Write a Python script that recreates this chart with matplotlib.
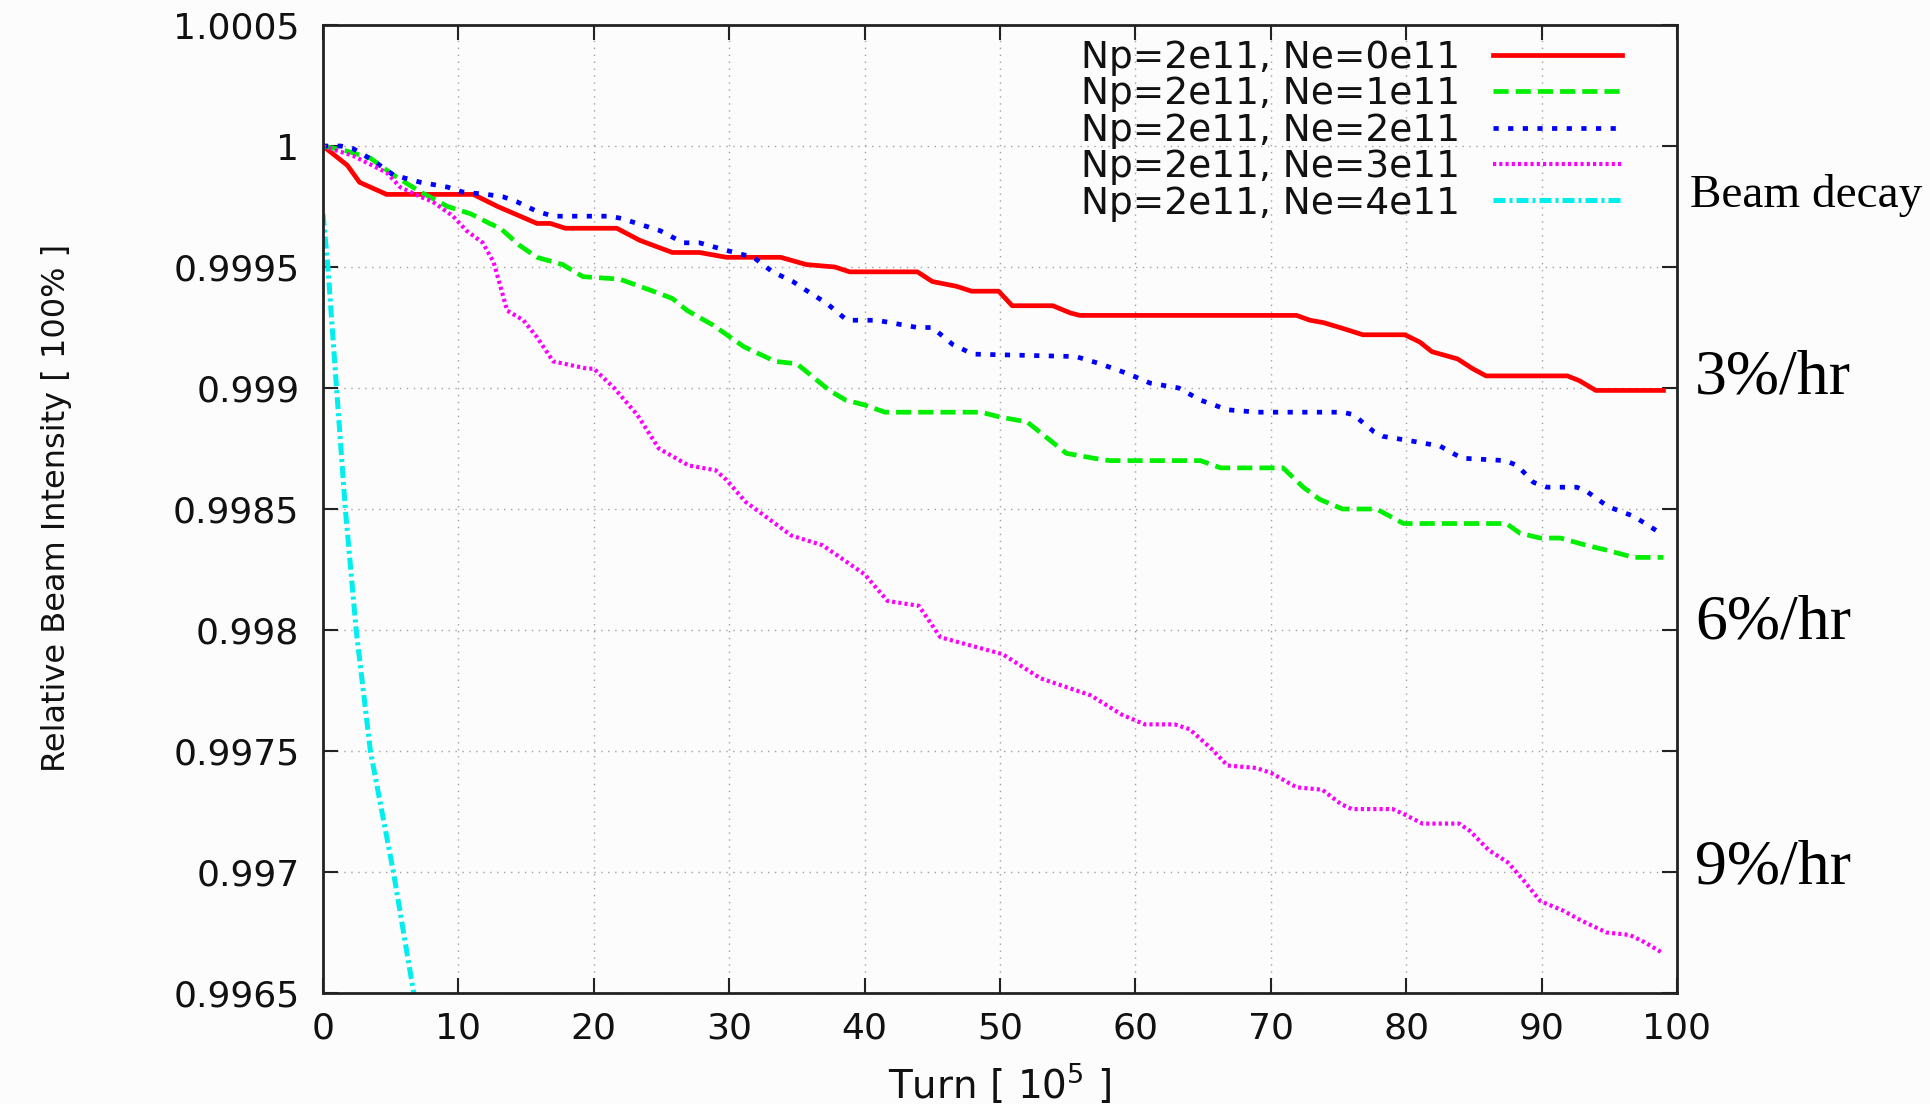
import matplotlib
matplotlib.use("Agg")
import matplotlib.pyplot as plt

# Beam intensity vs. turn number (turns in units of 1e5)
turn_ne0 = [0, 1.8, 2.7, 4.7, 11.1, 12.9, 15.8, 16.8, 17.9, 21.7, 23.4, 25.8, 27.8, 29.8,
            33.8, 35.7, 37.8, 38.9, 43.9, 45.0, 46.8, 47.9, 49.9, 50.9, 53.9, 55.2, 55.9,
            71.9, 72.9, 73.9, 75.1, 76.8, 79.9, 81.0, 81.9, 83.8, 84.9, 85.9, 91.9, 92.8,
            94.0, 99.0]
int_ne0 = [1.0, 0.99992, 0.99985, 0.9998, 0.9998, 0.99975, 0.99968, 0.99968, 0.99966,
           0.99966, 0.99961, 0.99956, 0.99956, 0.99954, 0.99954, 0.99951, 0.9995, 0.99948,
           0.99948, 0.99944, 0.99942, 0.9994, 0.9994, 0.99934, 0.99934, 0.99931, 0.9993,
           0.9993, 0.99928, 0.99927, 0.99925, 0.99922, 0.99922, 0.99919, 0.99915, 0.99912,
           0.99908, 0.99905, 0.99905, 0.99903, 0.99899, 0.99899]

turn_ne1 = [0, 1.7, 3.5, 5.2, 7.2, 9.2, 10.9, 12.3, 13.1, 14.5, 15.8, 17.7, 19.2, 21.9,
            23.9, 25.8, 26.9, 28.8, 31.1, 33.4, 35.0, 37.4, 38.6, 40.0, 41.5, 48.6, 50.0,
            52.0, 54.9, 56.9, 58.1, 64.8, 66.3, 70.9, 72.4, 73.6, 75.3, 77.8, 79.8, 87.4,
            88.4, 89.9, 91.4, 93.3, 94.8, 96.8, 99.0]
int_ne1 = [1.0, 0.99998, 0.99995, 0.99988, 0.99981, 0.99975, 0.99972, 0.99968, 0.99966,
           0.99959, 0.99954, 0.99951, 0.99946, 0.99945, 0.99941, 0.99937, 0.99932, 0.99926,
           0.99917, 0.99911, 0.9991, 0.99899, 0.99895, 0.99893, 0.9989, 0.9989, 0.99888,
           0.99886, 0.99873, 0.99871, 0.9987, 0.9987, 0.99867, 0.99867, 0.99859, 0.99854,
           0.9985, 0.9985, 0.99844, 0.99844, 0.9984, 0.99838, 0.99838, 0.99835, 0.99833,
           0.9983, 0.9983]

turn_ne2 = [0, 1.3, 2.2, 3.7, 5.2, 7.2, 9.2, 10.3, 12.1, 13.3, 14.3, 15.8, 17.0, 21.2,
            22.1, 23.2, 24.9, 26.6, 27.8, 29.7, 31.8, 33.2, 34.7, 35.5, 37.2, 38.7, 40.9,
            43.9, 45.0, 46.5, 48.0, 55.6, 57.4, 59.4, 61.1, 63.2, 64.8, 66.8, 69.0, 75.3,
            76.1, 77.6, 78.3, 80.5, 82.5, 84.1, 87.3, 88.2, 89.4, 90.4, 92.6, 93.4, 94.9,
            96.8, 98.5, 99.0]
int_ne2 = [1.0, 1.0, 0.99999, 0.99994, 0.99988, 0.99985, 0.99983, 0.99981, 0.9998,
           0.99979, 0.99977, 0.99973, 0.99971, 0.99971, 0.9997, 0.99968, 0.99965, 0.9996,
           0.9996, 0.99957, 0.99954, 0.99948, 0.99944, 0.99941, 0.99935, 0.99928, 0.99928,
           0.99925, 0.99925, 0.99918, 0.99914, 0.99913, 0.9991, 0.99906, 0.99902, 0.999,
           0.99895, 0.99891, 0.9989, 0.9989, 0.99889, 0.99882, 0.9988, 0.99878, 0.99876,
           0.99871, 0.9987, 0.99868, 0.99861, 0.99859, 0.99859, 0.99857, 0.99851, 0.99847,
           0.99841, 0.9984]

turn_ne3 = [0, 2.2, 4.7, 5.7, 7.2, 8.1, 9.6, 10.6, 11.8, 12.6, 13.6, 14.8, 15.8, 17.0,
            19.5, 20.0, 21.5, 23.2, 24.8, 27.0, 29.0, 29.8, 31.2, 34.6, 36.9, 40.0, 41.7,
            44.0, 45.6, 50.2, 53.0, 56.7, 59.0, 60.7, 62.9, 64.0, 65.6, 66.8, 68.9, 70.0,
            71.9, 73.8, 75.2, 76.0, 79.0, 79.8, 81.2, 83.9, 84.7, 86.1, 87.5, 88.6, 89.9,
            91.6, 92.9, 94.8, 96.5, 97.6, 98.8]
int_ne3 = [1.0, 0.99996, 0.99989, 0.99983, 0.99979, 0.99977, 0.99971, 0.99965, 0.9996,
           0.99952, 0.99932, 0.99928, 0.99921, 0.99911, 0.99908, 0.99908, 0.999, 0.99889,
           0.99875, 0.99868, 0.99866, 0.99862, 0.99853, 0.99839, 0.99835, 0.99823, 0.99812,
           0.9981, 0.99797, 0.9979, 0.9978, 0.99773, 0.99765, 0.99761, 0.99761, 0.99759,
           0.99751, 0.99744, 0.99743, 0.99741, 0.99735, 0.99734, 0.99728, 0.99726, 0.99726,
           0.99724, 0.9972, 0.9972, 0.99717, 0.99709, 0.99704, 0.99697, 0.99688, 0.99684,
           0.9968, 0.99675, 0.99674, 0.99671, 0.99667]

turn_ne4 = [0, 0.36, 1.0, 1.65, 2.45, 3.5, 5.2, 6.7, 7.2]
int_ne4 = [0.99972, 0.9995, 0.999, 0.9985, 0.998, 0.9975, 0.997, 0.9965, 0.99637]

labels = ["Np=2e11, Ne=0e11", "Np=2e11, Ne=1e11", "Np=2e11, Ne=2e11",
          "Np=2e11, Ne=3e11", "Np=2e11, Ne=4e11"]

x_ticks = [0, 10, 20, 30, 40, 50, 60, 70, 80, 90, 100]
y_ticks = [0.9965, 0.997, 0.9975, 0.998, 0.9985, 0.999, 0.9995, 1.0, 1.0005]
y_tick_labels = ["0.9965", "0.997", "0.9975", "0.998", "0.9985", "0.999", "0.9995",
                 "1", "1.0005"]

decay_labels = ["Beam decay", "3%/hr", "6%/hr", "9%/hr"]

# ---------------------------------------------------------------------------
W, H = 1931, 1104
bg = "#fbfcfb"
fig = plt.figure(figsize=(W / 100, H / 100), dpi=100, facecolor=bg)
ax = fig.add_axes([323 / W, 1 - 993 / H, (1677 - 323) / W, (993 - 25) / H])
ax.set_facecolor(bg)

series = [
    (turn_ne0, int_ne0, dict(color="#ff0000", lw=3.4, ls="-")),
    (turn_ne1, int_ne1, dict(color="#00ee00", lw=3.4, ls=(0, (3.2, 1.5)))),
    (turn_ne2, int_ne2, dict(color="#0000ff", lw=3.4, ls=(0, (1.1, 2.0)))),
    (turn_ne3, int_ne3, dict(color="#ff00ff", lw=3.0, ls=(0, (0.75, 0.75)))),
    (turn_ne4, int_ne4, dict(color="#00eeee", lw=3.6, ls=(0, (2.4, 0.8, 0.6, 0.8)))),
]
for (tx, iy, style), lab in zip(series, labels):
    ax.plot(tx, iy, label=lab, solid_joinstyle="round", **style)

ax.set_xlim(0, 100)
ax.set_ylim(0.9965, 1.0005)
ax.set_xticks(x_ticks)
ax.set_yticks(y_ticks)
ax.set_yticklabels(y_tick_labels)

for t in ax.get_xticklabels() + ax.get_yticklabels():
    t.set_fontfamily("DejaVu Sans")
    t.set_fontsize(26)
    t.set_color("#111111")

ax.tick_params(axis="both", which="major", direction="in", length=11, width=1.5,
               color="#222222", top=True, right=True)
ax.tick_params(axis="y", pad=17)
ax.tick_params(axis="x", pad=13)
for s in ax.spines.values():
    s.set_linewidth(2.0)
    s.set_color("#222222")

ax.grid(True, color="#a89ea8", lw=1.0, ls=(0, (1, 4)))
ax.set_axisbelow(True)

leg = ax.legend(loc="upper right", bbox_to_anchor=(1622 / W, 1 - 40 / H),
                bbox_transform=fig.transFigure, frameon=False, markerfirst=False,
                prop=dict(family="DejaVu Sans", size=27), handlelength=3.44,
                handletextpad=0.88, labelspacing=0.01, borderpad=0, borderaxespad=0)
for t in leg.get_texts():
    t.set_color("#111111")

ax.set_ylabel("Relative Beam Intensity [ 100% ]", fontsize=23, family="DejaVu Sans",
              color="#111111")
ax.yaxis.set_label_coords(72 / W, 1 - 508 / H, transform=fig.transFigure)
fig.text(1000 / W, 1 - 1098 / H, "Turn [ 10$^{5}$ ]", fontsize=28, family="DejaVu Sans",
         ha="center", va="baseline", color="#111111")

serif = "Liberation Serif"
fig.text(1690 / W, 1 - 206.8 / H, decay_labels[0], fontsize=34, family=serif,
         ha="left", va="baseline", color="black")
for lab, ybase in zip(decay_labels[1:], [393.8, 638.9, 883.0]):
    fig.text(1695 / W, 1 - ybase / H, lab, fontsize=46, family=serif,
             ha="left", va="baseline", color="black")

fig.savefig("out.png", dpi=100, facecolor=fig.get_facecolor())
